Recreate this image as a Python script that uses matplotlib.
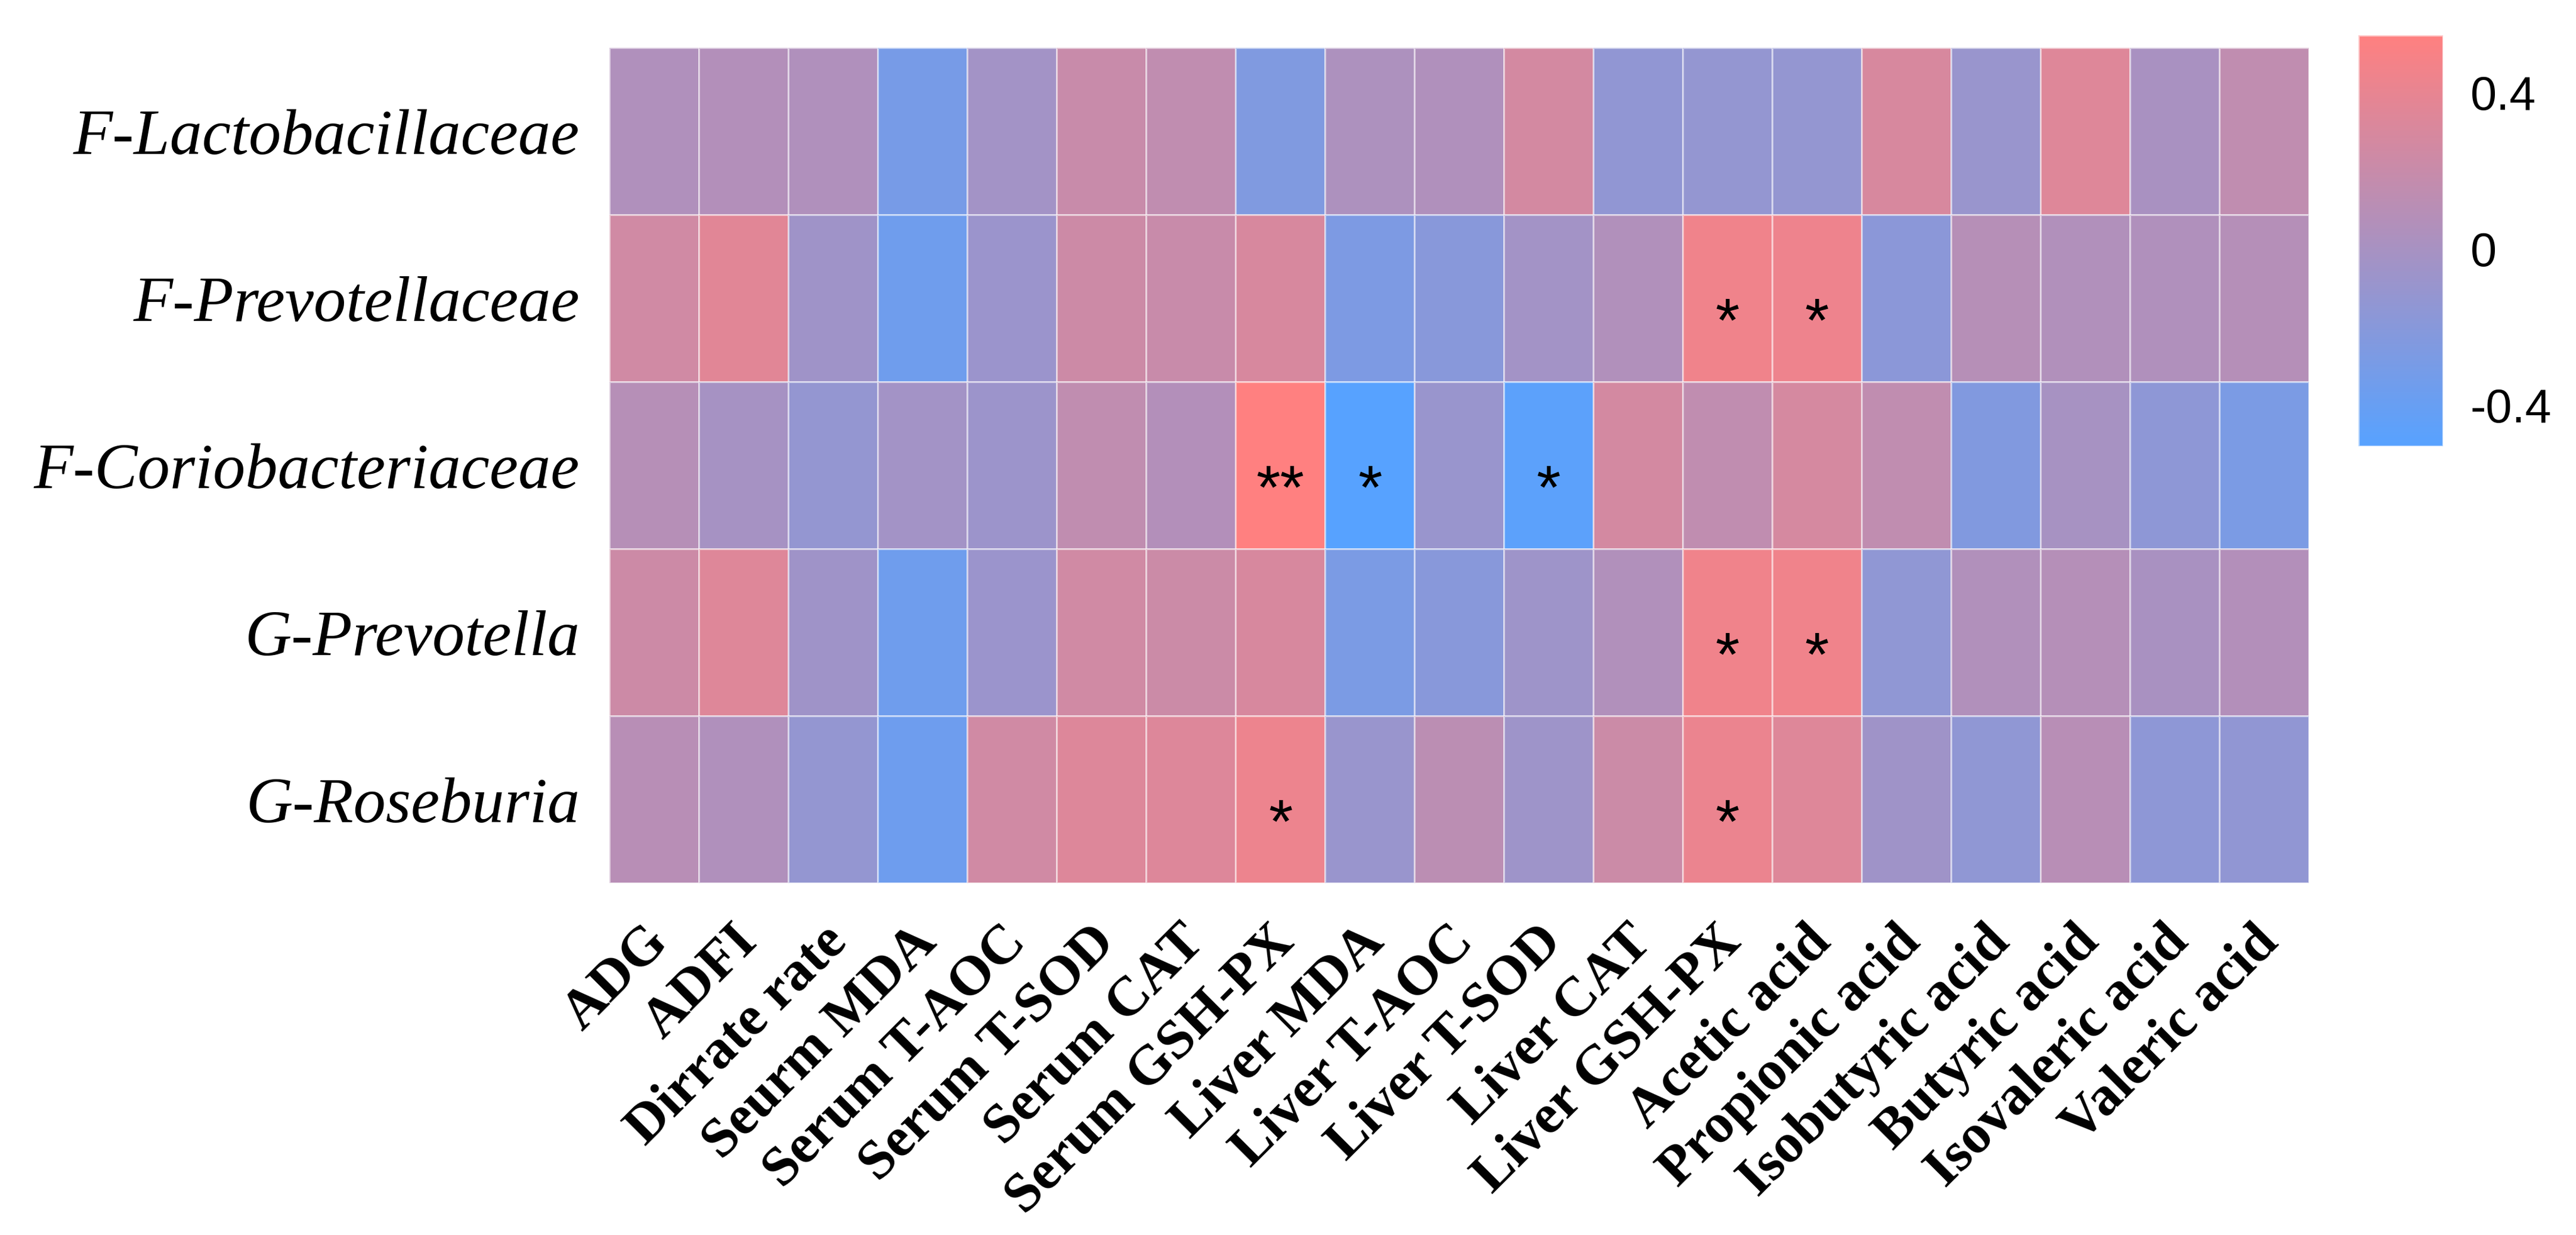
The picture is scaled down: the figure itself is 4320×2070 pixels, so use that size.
import numpy as np
import matplotlib
matplotlib.use('Agg')
import matplotlib.pyplot as plt
from matplotlib.colors import LinearSegmentedColormap, Normalize
from matplotlib.transforms import ScaledTranslation

taxa = ["F-Lactobacillaceae", "F-Prevotellaceae", "F-Coriobacteriaceae",
        "G-Prevotella", "G-Roseburia"]
traits = ["ADG", "ADFI", "Dirrate rate", "Seurm MDA", "Serum T-AOC", "Serum T-SOD",
          "Serum CAT", "Serum GSH-PX", "Liver MDA", "Liver T-AOC", "Liver T-SOD",
          "Liver CAT", "Liver GSH-PX", "Acetic acid", "Propionic acid",
          "Isobutyric acid", "Butyric acid", "Isovaleric acid", "Valeric acid"]

# correlation estimates, one list per taxon
lactobacillaceae = [0.05, 0.07, 0.05, -0.30, -0.03, 0.20, 0.15, -0.25, 0.03, 0.05,
                    0.27, -0.14, -0.12, -0.12, 0.30, -0.09, 0.34, 0.01, 0.15]
prevotellaceae = [0.25, 0.36, -0.05, -0.35, -0.08, 0.23, 0.20, 0.30, -0.27, -0.20,
                  -0.03, 0.06, 0.45, 0.44, -0.18, 0.09, 0.06, 0.05, 0.08]
coriobacteriaceae = [0.09, -0.01, -0.12, -0.03, -0.07, 0.15, 0.07, 0.547, -0.505, -0.09,
                     -0.47, 0.27, 0.15, 0.28, 0.15, -0.24, 0.00, -0.16, -0.28]
prevotella = [0.23, 0.34, -0.05, -0.35, -0.08, 0.25, 0.22, 0.30, -0.28, -0.20,
              -0.06, 0.06, 0.45, 0.45, -0.15, 0.06, 0.08, 0.01, 0.07]
roseburia = [0.10, 0.05, -0.12, -0.36, 0.25, 0.33, 0.33, 0.43, -0.09, 0.12,
             -0.06, 0.22, 0.42, 0.34, -0.05, -0.15, 0.10, -0.16, -0.14]

# significance marks: (row, column, label)
stars = [(1, 12, "*"), (1, 13, "*"),
         (2, 7, "**"), (2, 8, "*"), (2, 10, "*"),
         (3, 12, "*"), (3, 13, "*"),
         (4, 7, "*"), (4, 12, "*")]

data = np.array([lactobacillaceae, prevotellaceae, coriobacteriaceae, prevotella, roseburia])

cmap = LinearSegmentedColormap.from_list("bluered", ["#57A2FF", "#FF8080"])
norm = Normalize(vmin=data.min(), vmax=data.max())

fig = plt.figure(figsize=(14.4, 6.9), dpi=300)
ax = fig.add_axes([0.2366, 0.2850, 0.6597, 0.6763])
ax.pcolormesh(data, cmap=cmap, norm=norm, edgecolors=(1, 1, 1, 0.55), linewidth=0.7)
ax.set_xlim(0, len(traits))
ax.set_ylim(len(taxa), 0)

for r, c, s in stars:
    ax.text(c + 0.5, r + 0.5 + 0.26, s, ha='center', va='baseline',
            fontsize=25, family='Liberation Sans', color='black')

ax.set_yticks(np.arange(len(taxa)) + 0.5)
ax.set_yticklabels(taxa, family='Liberation Serif', style='italic', fontsize=26)
ax.set_xticks(np.arange(len(traits)) + 0.5)
ax.set_xticklabels(traits, family='Liberation Serif', fontweight='bold', fontsize=22.5,
                   rotation=45, ha='right', va='baseline', rotation_mode='anchor')
ax.tick_params(axis='x', length=0, pad=24.5)
ax.tick_params(axis='y', length=0, pad=12)
for lbl in ax.get_xticklabels():
    lbl.set_transform(lbl.get_transform() + ScaledTranslation(26 / 300, 0, fig.dpi_scale_trans))
for sp in ax.spines.values():
    sp.set_visible(False)

cax = fig.add_axes([0.9155, 0.6386, 0.0329, 0.3331])
cb = fig.colorbar(plt.cm.ScalarMappable(norm=norm, cmap=cmap), cax=cax, ticks=[-0.4, 0, 0.4])
cb.ax.set_yticklabels(["-0.4", "0", "0.4"], family='Liberation Sans', fontsize=19)
cb.ax.tick_params(length=0, pad=11)
cb.outline.set_edgecolor((1, 1, 1, 0.6))

plt.savefig("out.png", dpi=300)
